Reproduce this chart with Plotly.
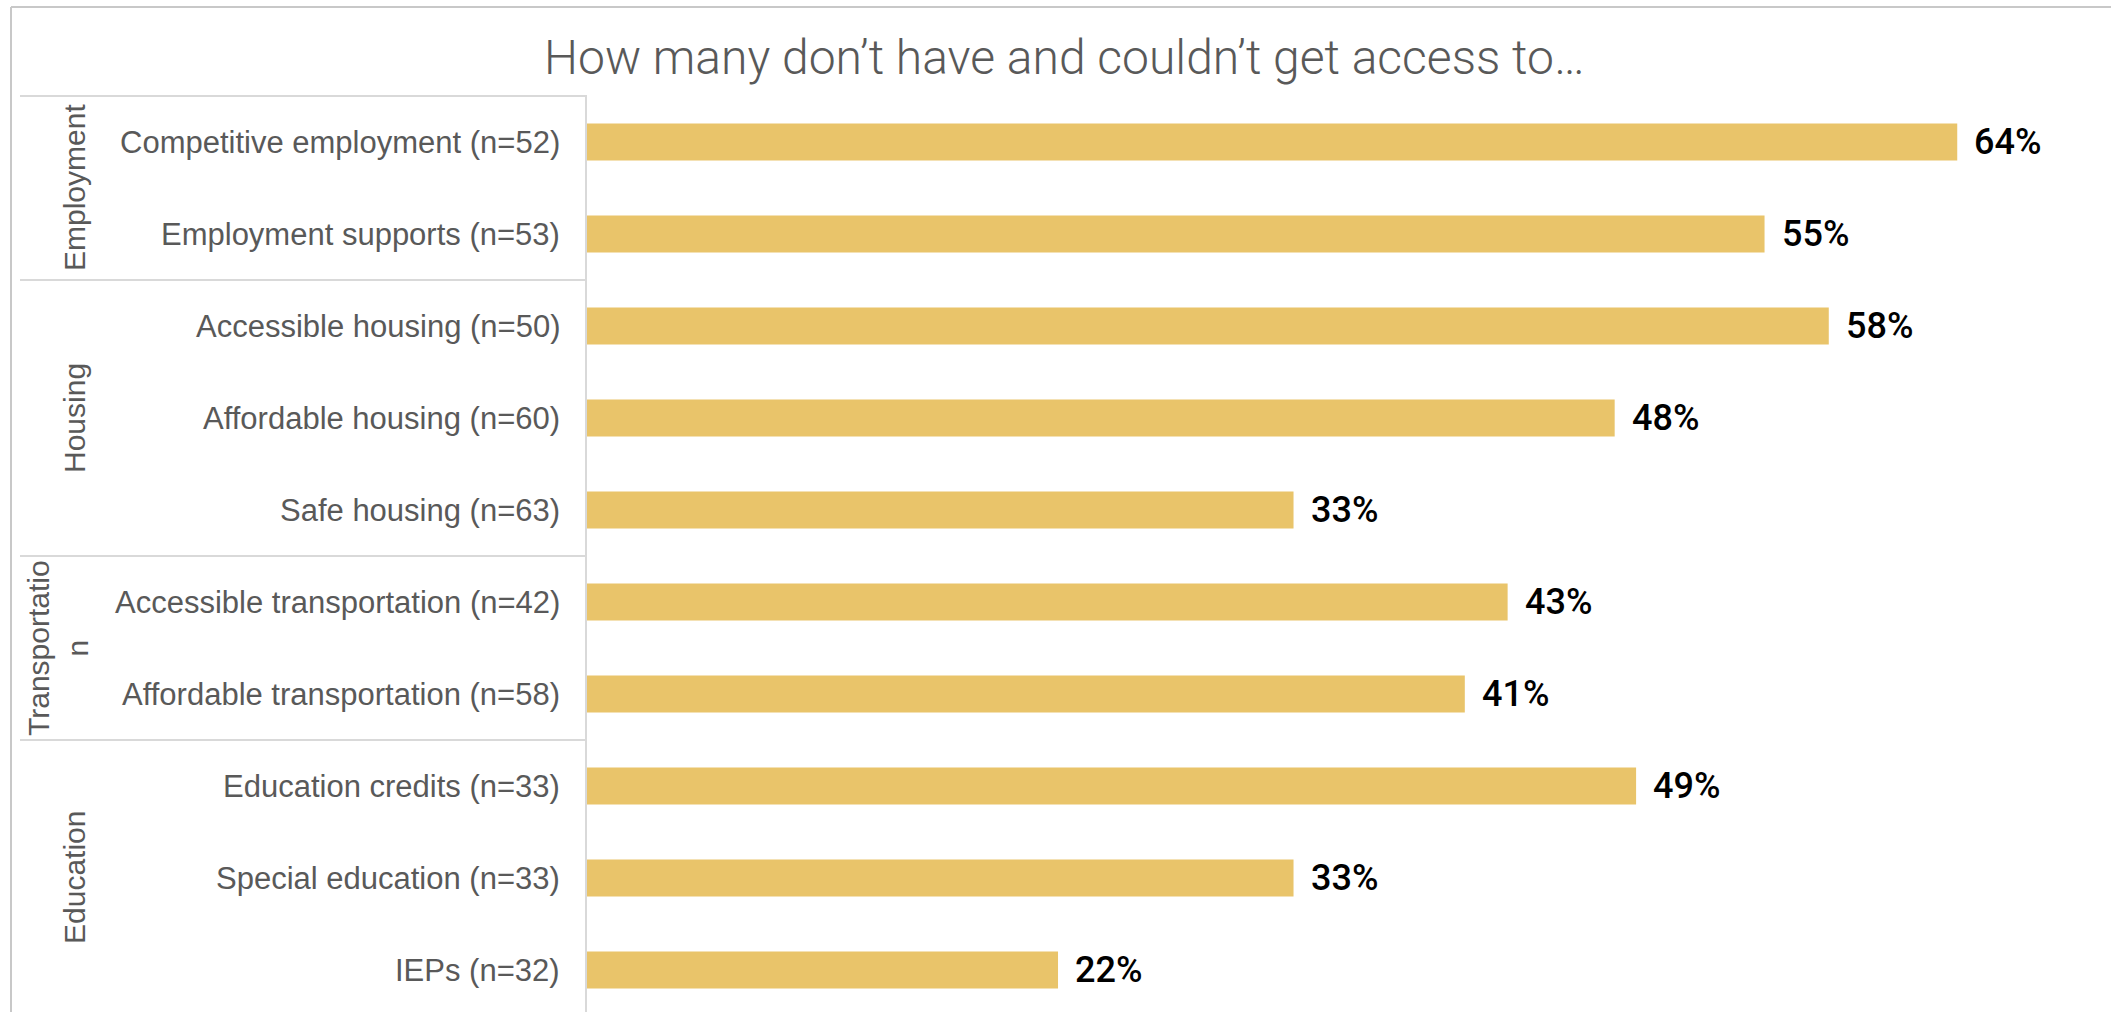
import plotly.graph_objects as go

# Data, listed top to bottom
categories = [
    "Competitive employment (n=52)",
    "Employment supports (n=53)",
    "Accessible housing (n=50)",
    "Affordable housing (n=60)",
    "Safe housing (n=63)",
    "Accessible transportation (n=42)",
    "Affordable transportation (n=58)",
    "Education credits (n=33)",
    "Special education (n=33)",
    "IEPs (n=32)",
]
values = [64, 55, 58, 48, 33, 43, 41, 49, 33, 22]
groups = ["Employment", "Housing", "Transportatio<br>n", "Education"]
group_sizes = [2, 3, 2, 3]
title_text = "How many don’t have and couldn’t get access to…"

W, H = 2111, 1012
M_L, M_T = 587, 96
PLOT_W = W - M_L
PLOT_H = H - M_T
SLOT = 92.0           # pixels per category row
PX_PER_PCT = 21.41    # pixels per percentage point

x_range = [0, PLOT_W / PX_PER_PCT]
y_top = -0.5
y_bottom = y_top + PLOT_H / SLOT
y_range = [y_bottom, y_top]

BAR_COLOR = "#E9C46A"
TEXT_GRAY = "#595959"
LINE_GRAY = "#D9D9D9"
FRAME_GRAY = "#C8C8C8"
LABEL_FONT = "Liberation Sans, Arial, sans-serif"


def px_to_paper_x(px):
    return (px - M_L) / PLOT_W


def px_to_paper_y(py):
    return (H - py) / PLOT_H


def data_y_to_paper(y):
    return (y_bottom - y) / (y_bottom - y_top)


ypos = list(range(len(categories)))

fig = go.Figure(
    go.Bar(
        x=values,
        y=ypos,
        orientation="h",
        width=0.4,
        marker=dict(color=BAR_COLOR, line=dict(width=0)),
        hoverinfo="skip",
    )
)

annotations = []

# Value labels next to each bar
for v, y in zip(values, ypos):
    annotations.append(dict(
        x=v, y=y, xref="x", yref="y", text=f"{v}%", showarrow=False,
        xanchor="left", yanchor="middle", xshift=15,
        font=dict(family="Roboto, sans-serif", size=36, color="#000000", weight=500),
    ))

# Category labels
for cat, y in zip(categories, ypos):
    annotations.append(dict(
        x=0, y=y, xref="paper", yref="y", text=cat, showarrow=False,
        xanchor="right", yanchor="middle", xshift=-25,
        font=dict(family=LABEL_FONT, size=31, color=TEXT_GRAY),
    ))

# Group labels and separators
shapes = []
start = 0
boundaries = [start - 0.5]
for g, n in zip(groups, group_sizes):
    lo = start - 0.5
    hi = start + n - 0.5
    center = (lo + hi) / 2
    gx = 58 if "<br>" in g else 74
    annotations.append(dict(
        x=px_to_paper_x(gx), y=center, xref="paper", yref="y", text=g,
        showarrow=False, textangle=-90, xanchor="center", yanchor="middle",
        font=dict(family=LABEL_FONT, size=30, color=TEXT_GRAY),
    ))
    start += n
    boundaries.append(hi)

for b in boundaries[:-1]:
    yp = data_y_to_paper(b)
    shapes.append(dict(
        type="line", xref="paper", yref="paper",
        x0=px_to_paper_x(20), x1=0, y0=yp, y1=yp,
        line=dict(color=LINE_GRAY, width=2),
    ))

# Outer frame (top and left edges)
shapes.append(dict(
    type="line", xref="paper", yref="paper",
    x0=px_to_paper_x(11), x1=px_to_paper_x(W + 5),
    y0=px_to_paper_y(7), y1=px_to_paper_y(7),
    line=dict(color=FRAME_GRAY, width=2),
))
shapes.append(dict(
    type="line", xref="paper", yref="paper",
    x0=px_to_paper_x(11), x1=px_to_paper_x(11),
    y0=px_to_paper_y(7), y1=px_to_paper_y(H + 5),
    line=dict(color=FRAME_GRAY, width=2),
))

# Title
annotations.append(dict(
    x=px_to_paper_x(1064), y=px_to_paper_y(57), xref="paper", yref="paper",
    text=title_text, showarrow=False, xanchor="center", yanchor="middle",
    font=dict(family="Roboto, sans-serif", size=48, color=TEXT_GRAY, weight=300),
))

fig.update_layout(
    width=W, height=H,
    margin=dict(l=M_L, r=0, t=M_T, b=0, pad=0),
    paper_bgcolor="white", plot_bgcolor="white",
    showlegend=False,
    xaxis=dict(range=x_range, showgrid=False, zeroline=False,
               showticklabels=False, showline=False, fixedrange=True),
    yaxis=dict(range=y_range, showgrid=False, zeroline=False,
               showticklabels=False, showline=True, linecolor=LINE_GRAY,
               linewidth=2, fixedrange=True),
    annotations=annotations,
    shapes=shapes,
)

fig.write_html("out.html", config={"displayModeBar": False})
